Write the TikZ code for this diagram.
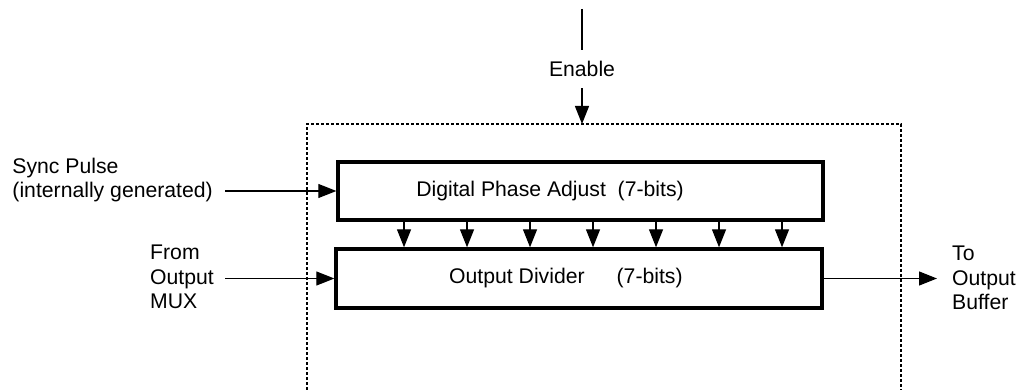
\documentclass[tikz,border=0pt]{standalone}
\usepackage{fontspec}
\setmainfont{Liberation Sans}
\usepackage{tikz}
\usetikzlibrary{arrows.meta, positioning, calc}

\begin{document}
\begin{tikzpicture}[x=1pt, y=-1pt, font=\fontsize{21.2}{24.5}\selectfont,
  block/.style={draw, line width=3.4pt, inner sep=0pt},
  txt/.style={inner sep=0pt, align=left},
  sig/.style={line width=1.3pt, -{Triangle[length=18pt, width=14pt]}},
  frame/.style={line width=2pt, dash pattern=on 3pt off 2pt}]
\useasboundingbox (0,0) rectangle (1017,390);

% enable input from above
\coordinate (entop) at (582,9);
\node [txt, minimum height=38pt] (enable) at (582,69) {Enable};
\coordinate (FL) at (307,390);
\coordinate (FT) at (582,124);
\coordinate (FR) at (901,390);
\draw [frame] (FL) |- (FT) -| (FR);
\draw [line width=1.3pt] (entop) -- (enable.north);
\draw [sig] (enable.south) -- (FT);

% the two blocks
\node [block, minimum width=485pt, minimum height=58pt] (phase) at (580.5,191) {};
\node [txt] (phasetxt) at (550,191) {Digital Phase Adjust\ \ (7-bits)};
\node [block, minimum width=486pt, minimum height=59pt] (divider) at (579,278.5) {};
\node [txt, anchor=west] (divtxt) at (449,278.5) {Output Divider\hspace{32pt}(7-bits)};

% phase adjust bits
\foreach \x in {404,467,530,593,656,719,782}
  \draw [sig] (phase.south -| \x,0) -- (divider.north -| \x,0);

% left side inputs
\node [txt, anchor=east] (synclbl) at (213,180) {Sync Pulse\\(internally generated)};
\coordinate (syncin) at (225,191);
\draw [sig] (syncin) -- (phase.west);
\node [txt, anchor=west] (muxlbl) at (150,277) {From\\Output\\MUX};
\coordinate (muxin) at (225,278.5);
\draw [sig] (muxin) -- (divider.west);

% output
\node [txt, anchor=west] (buflbl) at (952,278) {To\\Output\\Buffer};
\coordinate (bufout) at (937,278.5);
\draw [sig] (divider.east) -- (bufout);
\end{tikzpicture}
\end{document}
